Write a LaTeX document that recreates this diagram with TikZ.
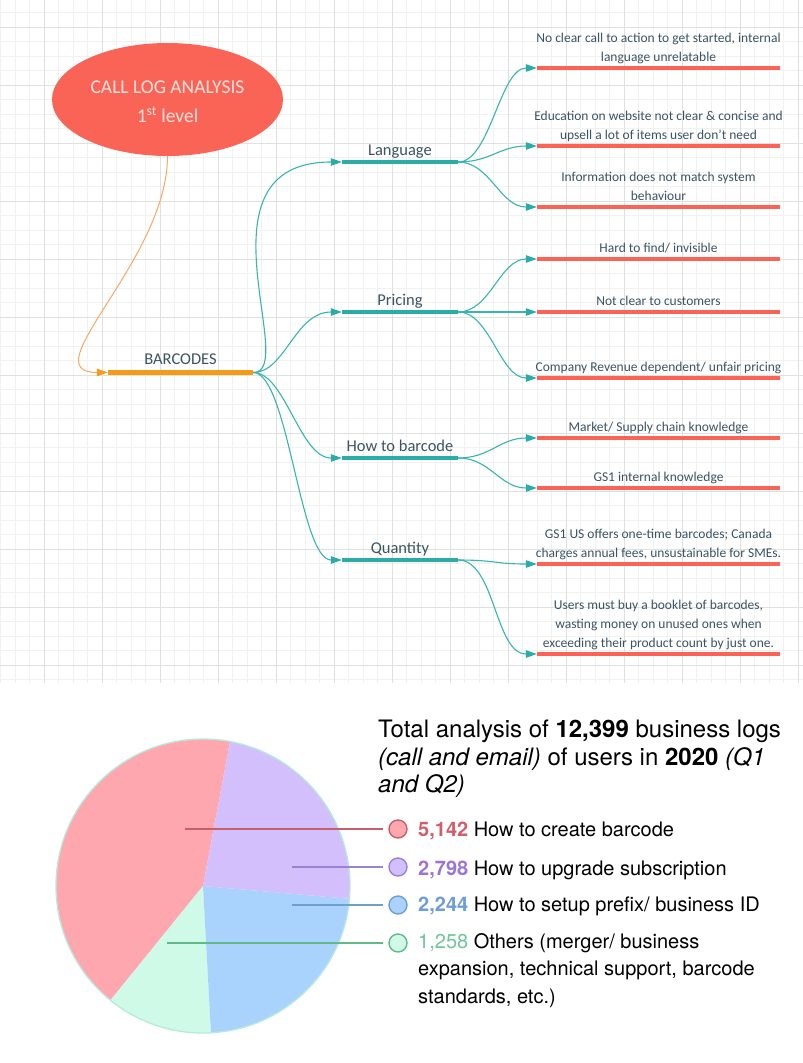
\documentclass[tikz,border=0pt]{standalone}
\usepackage{fontspec}
\setmainfont{Carlito}
\newfontfamily\heros{TeX Gyre Heros}
\usetikzlibrary{arrows.meta,positioning,shapes.geometric}

\definecolor{gridminor}{HTML}{F1F1F1}
\definecolor{gridmajor}{HTML}{E0E0E0}
\definecolor{coral}{HTML}{FA6457}
\definecolor{rootink}{HTML}{FFE2DD}
\definecolor{orangebar}{HTML}{F49B1A}
\definecolor{orangelink}{HTML}{F8A862}
\definecolor{tealbar}{HTML}{2AADA6}
\definecolor{teallink}{HTML}{37B6B0}
\definecolor{leafbar}{HTML}{FA6355}
\definecolor{ink}{HTML}{3B5465}
\definecolor{piered}{HTML}{FFA7AE}
\definecolor{piepurple}{HTML}{D3BFFC}
\definecolor{pieblue}{HTML}{A9D3FD}
\definecolor{piegreen}{HTML}{CFFAE7}
\definecolor{redline}{HTML}{C5606B}
\definecolor{purpleline}{HTML}{9C80D3}
\definecolor{blueline}{HTML}{709FCF}
\definecolor{greenline}{HTML}{62B98A}
\definecolor{rednum}{HTML}{D05E6B}
\definecolor{purplenum}{HTML}{9B74D8}
\definecolor{bluenum}{HTML}{6D9FD6}
\definecolor{greennum}{HTML}{6EC69C}

\tikzset{
  minorline/.style={draw=gridminor, line width=0.9pt},
  majorline/.style={draw=gridmajor, line width=1pt},
  bar/.style={rectangle, inner sep=0pt, minimum height=4.5pt},
  branch/.style={bar, fill=tealbar, minimum width=116pt},
  leaf/.style={bar, fill=leafbar, minimum width=243pt},
  branchlabel/.style={inner sep=0pt, text depth=0pt, text=ink, font=\fontsize{16.5}{19}\selectfont},
  leaflabel/.style={inner sep=0pt, text depth=0pt, text=ink, align=center, font=\fontsize{13.5}{19}\selectfont},
  link/.style={draw=teallink, line width=1.1pt, -{Triangle[length=11pt,width=7.5pt,color=tealbar]}},
  dot/.style={circle, minimum size=18pt, inner sep=0pt, line width=1.4pt},
  legend/.style={inner sep=0pt, anchor=base west, align=left, font=\heros\fontsize{20}{27.5}\selectfont},
}

\begin{document}
\begin{tikzpicture}[x=1pt,y=-1pt,label distance=4pt]
  \fill[white] (0,0) rectangle (803,1063);
  \useasboundingbox (0,0) rectangle (803,1063);
  % grid
  \foreach \k in {-3,...,52}
    \draw[minorline] ({44+14.5*\k},0) -- ({44+14.5*\k},683);
  \foreach \k in {-1,...,45}
    \draw[minorline] (0,{27+14.5*\k}) -- (803,{27+14.5*\k});
  \foreach \k in {0,...,13}
    \draw[majorline] ({44+58*\k},0) -- ({44+58*\k},683);
  \foreach \k in {0,...,11}
    \draw[majorline] (0,{27+58*\k}) -- (803,{27+58*\k});

  % mind map
  \node[ellipse, fill=coral, minimum width=231pt, minimum height=113pt, inner sep=0pt,
    text=rootink, align=center, font=\fontsize{19.5}{29}\selectfont] (root) at (167.5,99.5)
    {\rule{0pt}{18pt}CALL LOG ANALYSIS\\1\textsuperscript{st} level};
  \node[bar, fill=orangebar, minimum width=145pt, minimum height=5pt,
    label={[branchlabel, label distance=5pt]above:BARCODES}] (barcodes) at (180.5,372.5) {};

  \node[branch, label={[branchlabel]above:Language}] (language) at (400,162) {};
  \node[branch, label={[branchlabel]above:Pricing}] (pricing) at (400,312) {};
  \node[branch, label={[branchlabel]above:How to barcode}] (howto) at (400,458) {};
  \node[branch, label={[branchlabel]above:Quantity}] (quantity) at (400,560) {};

  \node[leaf, label={[leaflabel]above:{No clear call to action to get started, internal\\language unrelatable}}] (lang1) at (658.5,68) {};
  \node[leaf, label={[leaflabel]above:{Education on website not clear \& concise and\\upsell a lot of items user don't need}}] (lang2) at (658.5,146) {};
  \node[leaf, label={[leaflabel]above:{Information does not match system\\behaviour}}] (lang3) at (658.5,207) {};
  \node[leaf, label={[leaflabel]above:{Hard to find/ invisible}}] (price1) at (658.5,259) {};
  \node[leaf, label={[leaflabel]above:{Not clear to customers}}] (price2) at (658.5,312) {};
  \node[leaf, label={[leaflabel]above:{Company Revenue dependent/ unfair pricing}}] (price3) at (658.5,378) {};
  \node[leaf, label={[leaflabel]above:{Market/ Supply chain knowledge}}] (howto1) at (658.5,438) {};
  \node[leaf, label={[leaflabel]above:{GS1 internal knowledge}}] (howto2) at (658.5,488) {};
  \node[leaf, label={[leaflabel]above:{GS1 US offers one-time barcodes; Canada\\charges annual fees, unsustainable for SMEs.}}] (qty1) at (658.5,564) {};
  \node[leaf, label={[leaflabel]above:{Users must buy a booklet of barcodes,\\wasting money on unused ones when\\exceeding their product count by just one.}}] (qty2) at (658.5,654) {};

  \draw[draw=orangelink, line width=1pt, -{Triangle[length=11pt,width=7.5pt,color=orangebar]}]
    (root.south) .. controls +(0,104) and +(-78,0) .. (barcodes.west);
  \draw[link] (barcodes.east) .. controls +(47,0) and +(-152,0) .. (language.west);
  \draw[link] (barcodes.east) .. controls +(32,0) and +(-47,0) .. (pricing.west);
  \draw[link] (barcodes.east) .. controls +(32,0) and +(-42,0) .. (howto.west);
  \draw[link] (barcodes.east) .. controls +(35,0) and +(-42,0) .. (quantity.west);
  \foreach \leafnode in {lang1,lang2,lang3}
    \draw[link] (language.east) .. controls +(32,0) and +(-37,0) .. (\leafnode.west);
  \foreach \leafnode in {price1,price2,price3}
    \draw[link] (pricing.east) .. controls +(32,0) and +(-37,0) .. (\leafnode.west);
  \foreach \leafnode in {howto1,howto2}
    \draw[link] (howto.east) .. controls +(32,0) and +(-37,0) .. (\leafnode.west);
  \foreach \leafnode in {qty1,qty2}
    \draw[link] (quantity.east) .. controls +(37,0) and +(-42,0) .. (\leafnode.west);

  % pie chart
  \coordinate (piec) at (203,886);
  \fill[piered] (piec) -- ++(-79.4:147) arc[start angle=-79.4, end angle=-231, radius=147] -- cycle;
  \fill[piegreen] (piec) -- ++(-231:147) arc[start angle=-231, end angle=-273.1, radius=147] -- cycle;
  \fill[pieblue] (piec) -- ++(-273.1:147) arc[start angle=-273.1, end angle=-355, radius=147] -- cycle;
  \fill[piepurple] (piec) -- ++(-355:147) arc[start angle=-355, end angle=-439.4, radius=147] -- cycle;
  \draw[piegreen!85!teal!90!white, line width=1.3pt] (piec) circle[radius=147];

  \node[legend, font=\heros\fontsize{24}{27.7}\selectfont] (title) at (378,792.7)
    {Total analysis of \textbf{12,399} business logs\\
    \textit{(call and email)} of users in \textbf{2020} \textit{(Q1}\\\textit{and Q2)}};

  \coordinate (red-in) at (185,829);
  \coordinate (purple-in) at (292,867);
  \coordinate (blue-in) at (292,905);
  \coordinate (green-in) at (167,943);
  \node[dot, fill=piered, draw=redline] (dot1) at (398,829) {};
  \node[dot, fill=piepurple, draw=purpleline] (dot2) at (398,867) {};
  \node[dot, fill=pieblue, draw=blueline] (dot3) at (398,905) {};
  \node[dot, fill=piegreen, draw=greenline] (dot4) at (398,943) {};
  \draw[redline, line width=1.3pt, shorten >=5pt] (red-in) -- (dot1.west);
  \draw[purpleline, line width=1.3pt, shorten >=5pt] (purple-in) -- (dot2.west);
  \draw[blueline, line width=1.3pt, shorten >=5pt] (blue-in) -- (dot3.west);
  \draw[greenline, line width=1.3pt, shorten >=5pt] (green-in) -- (dot4.west);

  \node[legend] (leg1) at (418,836) {\textcolor{rednum}{\bfseries 5,142} How to create barcode};
  \node[legend] (leg2) at (418,875.7) {\textcolor{purplenum}{\bfseries 2,798} How to upgrade subscription};
  \node[legend] (leg3) at (418,911.7) {\textcolor{bluenum}{\bfseries 2,244} How to setup prefix/ business ID};
  \node[legend] (leg4) at (418,1003) {\textcolor{greennum}{1,258} Others (merger/ business\\
    expansion, technical support, barcode\\standards, etc.)};
\end{tikzpicture}
\end{document}
